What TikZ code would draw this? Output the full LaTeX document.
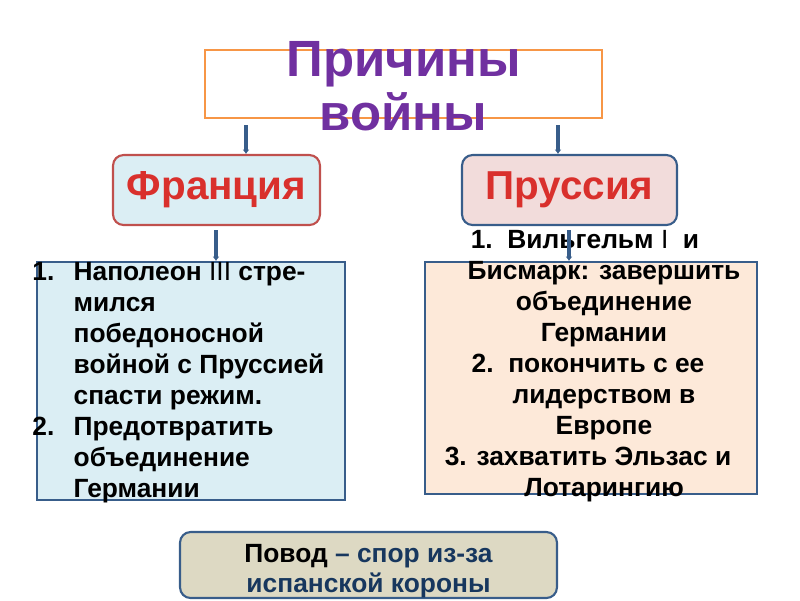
\documentclass[tikz,border=0pt]{standalone}
\usepackage{fontspec}
\setmainfont{Liberation Sans}
\usetikzlibrary{arrows.meta}
\definecolor{causeorange}{HTML}{F79646}
\definecolor{causepurple}{HTML}{7030A0}
\definecolor{countryred}{HTML}{D9302C}
\definecolor{franceedge}{HTML}{C0504D}
\definecolor{boxblue}{HTML}{385D8A}
\definecolor{lightblue}{HTML}{DBEEF4}
\definecolor{lightpink}{HTML}{F2DCDB}
\definecolor{lightpeach}{HTML}{FDE9D9}
\definecolor{lightkhaki}{HTML}{DDD9C3}
\definecolor{darknavy}{HTML}{17375E}
\begin{document}
\begin{tikzpicture}[x=0.02cm,y=-0.02cm,
    box/.style={draw=boxblue,line width=1.2pt,inner sep=0pt},
    country/.style={box,rounded corners=6pt,minimum height=1.4cm,
      text=countryred,font=\fontsize{23}{27}\selectfont\bfseries},
    goals/.style={inner sep=0pt,font=\fontsize{15}{17.7}\selectfont\bfseries},
    link/.style={draw=boxblue,line width=2.2pt,-{Latex[length=2.5pt,width=4pt]}}]
    \useasboundingbox (0,0) rectangle (800,600);

    % Причины войны
    \node[draw=causeorange,line width=1.2pt,minimum width=7.94cm,minimum height=1.36cm] (causes) at (403.5,84) {};
    \node[align=center,text=causepurple,font=\fontsize{29}{31}\selectfont\bfseries] (title) at (403.5,86) {Причины\\войны};

    % Франция
    \node[country,draw=franceedge,fill=lightblue,minimum width=4.14cm] (france) at (216.5,190) {Франция};
    \node[box,fill=lightblue,minimum width=6.16cm,minimum height=4.76cm] (frgoals) at (191,381) {};
    \node[goals,anchor=base west] (frtext) at (32,280) {\begin{tabular}[t]{@{}l@{\hspace{11pt}}l@{}}
      1. & Наполеон \textmd{III} стре-\\
         & мился\\
         & победоносной\\
         & войной с Пруссией\\
         & спасти режим.\\
      2. & Предотвратить\\
         & объединение\\
         & Германии
    \end{tabular}};

    % Пруссия
    \node[country,fill=lightpink,minimum width=4.3cm] (prussia) at (569.5,190) {Пруссия};
    \node[box,fill=lightpeach,minimum width=6.64cm,minimum height=4.64cm] (prgoals) at (591,378) {};
    \node[goals,anchor=base] (prtext) at (604,248) {\begin{tabular}[t]{@{}c@{}}
      1.~~Вильгельм \textmd{I}~~и\hspace{0.76cm}\mbox{}\\
      Бисмарк: завершить\\
      объединение\\
      Германии\\
      2.~~покончить с ее\hspace{0.64cm}\mbox{}\\
      лидерством в\\
      Европе\\
      3. захватить Эльзас и\hspace{0.64cm}\mbox{}\\
      Лотарингию
    \end{tabular}};

    % Повод
    \node[box,rounded corners=6pt,fill=lightkhaki,minimum width=7.54cm,minimum height=1.32cm] (pretext) at (368.5,565) {};
    \node[align=center,text=darknavy,font=\fontsize{15}{17}\selectfont\bfseries] (pretitle) at (368.5,571)
      {\textcolor{black}{Повод} – спор из-за\\испанской короны};

    \coordinate (c1) at (246,125);
    \coordinate (c2) at (558,125);
    \coordinate (f1) at (216,230);
    \coordinate (p1) at (569,230);
    \draw[link] (c1) -- (c1 |- france.north);
    \draw[link] (c2) -- (c2 |- prussia.north);
    \draw[link] (f1) -- (f1 |- frgoals.north);
    \draw[link] (p1) -- (p1 |- prgoals.north);
\end{tikzpicture}
\end{document}
